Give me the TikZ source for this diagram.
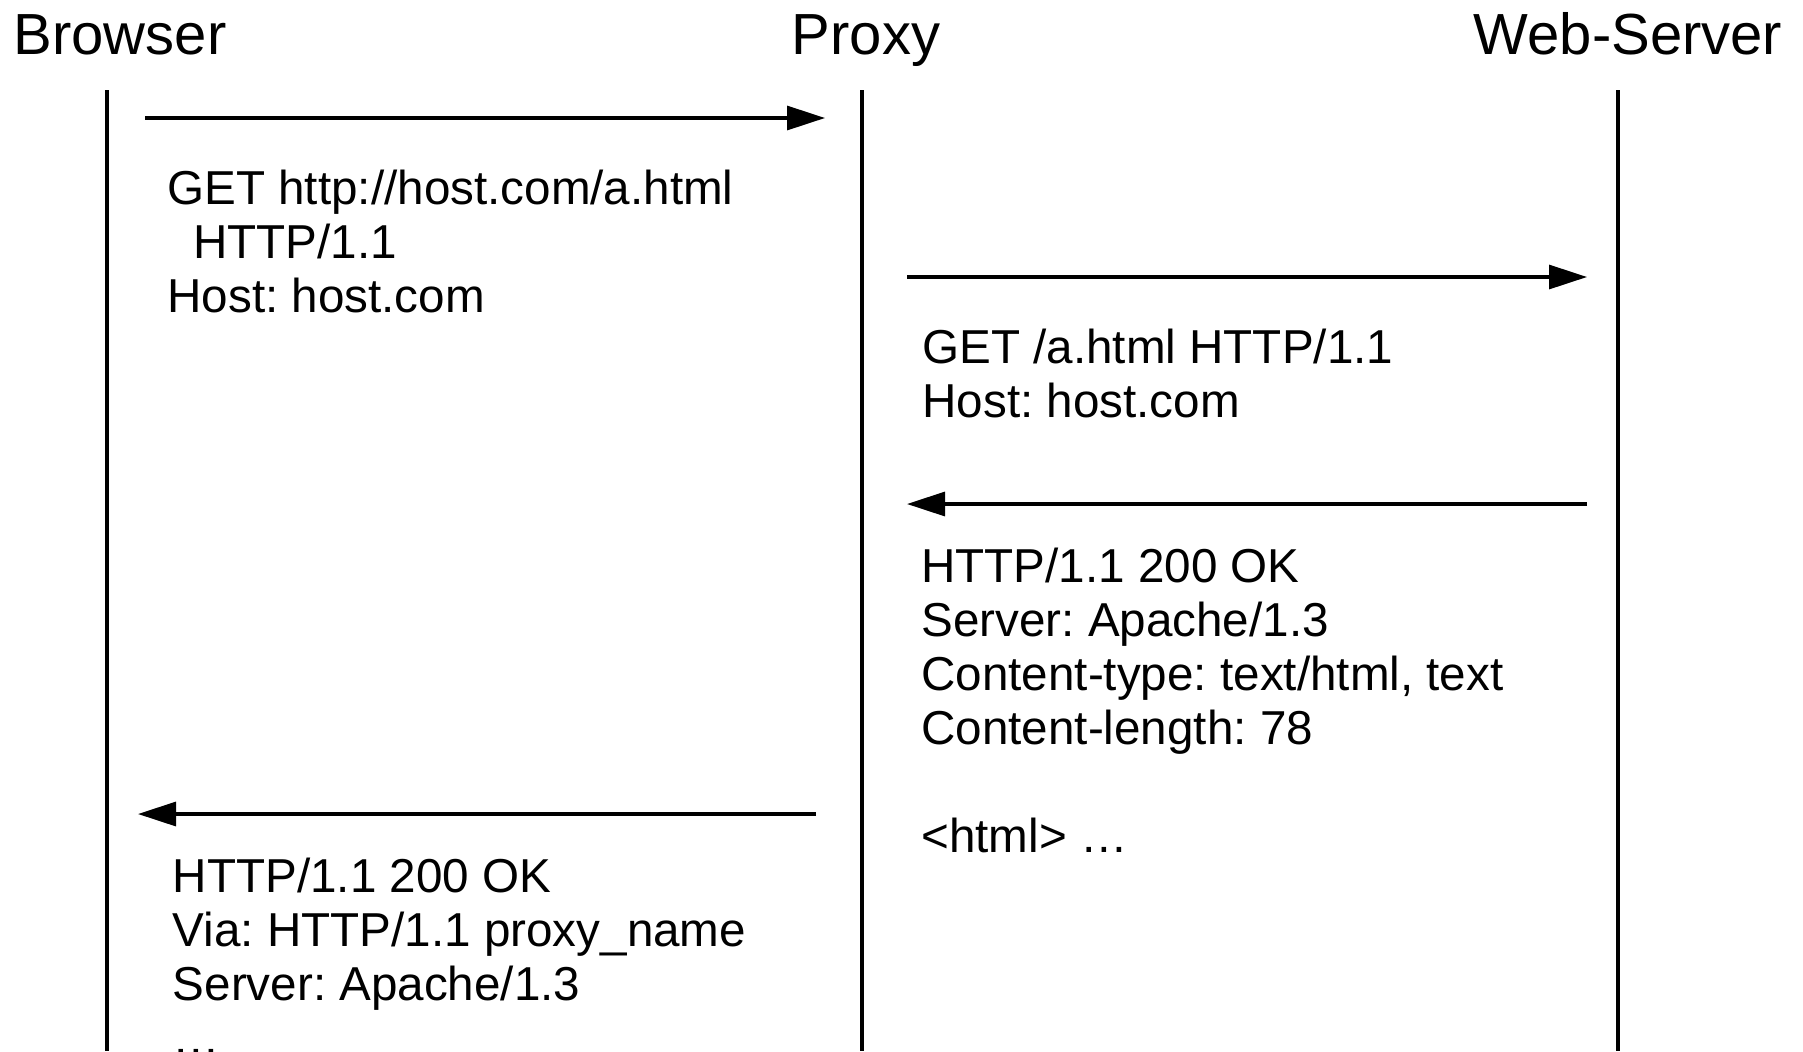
\documentclass[tikz,border=0pt]{standalone}
\usepackage{fontspec}
\setmainfont{Liberation Sans}
\usetikzlibrary{arrows.meta}
\frenchspacing
\begin{document}
\begin{tikzpicture}[x=0.5pt,y=-0.5pt,
  lifeline/.style={line width=1.7pt},
  msg/.style={line width=1.6pt,-{Triangle[length=19pt,width=12pt]}},
  title/.style={font=\fontsize{29}{33}\selectfont, inner sep=0pt, anchor=base},
  body/.style={font=\fontsize{23.8}{27}\selectfont\frenchspacing, inner sep=0pt, anchor=base west}]
\useasboundingbox (0,0) rectangle (1803,1051);
% titles
\node[title] (browser) at (120,54) {Browser};
\node[title] (proxy) at (866,54) {Proxy};
\node[title] (server) at (1628,54) {Web-Server};
% lifelines
\coordinate (bt) at (107,90);   \coordinate (bb) at (107,1051);
\coordinate (pt) at (862,90);   \coordinate (pb) at (862,1051);
\coordinate (st) at (1618,90);  \coordinate (sb) at (1618,1051);
\draw[lifeline] (bt) -- (bb);
\draw[lifeline] (pt) -- (pb);
\draw[lifeline] (st) -- (sb);
% messages
\coordinate (m1s) at (145,118);  \coordinate (m1e) at (825,118);
\coordinate (m2s) at (907,277);  \coordinate (m2e) at (1587,277);
\coordinate (m3s) at (1587,504); \coordinate (m3e) at (907,504);
\coordinate (m4s) at (816,814);  \coordinate (m4e) at (138,814);
\draw[msg] (m1s) -- (m1e);
\draw[msg] (m2s) -- (m2e);
\draw[msg] (m3s) -- (m3e);
\draw[msg] (m4s) -- (m4e);
% texts
\node[body] (t1) at (167,204.7) {\begin{tabular}[t]{@{}l@{}}GET http://host.com/a.html\\\hspace{13pt}HTTP/1.1\\Host: host.com\end{tabular}};
\node[body] (t2) at (922,363.4) {\begin{tabular}[t]{@{}l@{}}GET /a.html HTTP/1.1\\Host: host.com\end{tabular}};
\node[body] (t3) at (921,582) {\begin{tabular}[t]{@{}l@{}}HTTP/1.1 200 OK\\Server: Apache/1.3\\Content-type: text/html, text\\Content-length: 78\\ \\<html> …\end{tabular}};
\node[body] (t4) at (172.5,892.4) {\begin{tabular}[t]{@{}l@{}}HTTP/1.1 200 OK\\Via: HTTP/1.1 proxy\_name\\Server: Apache/1.3\\…\end{tabular}};
\end{tikzpicture}
\end{document}
